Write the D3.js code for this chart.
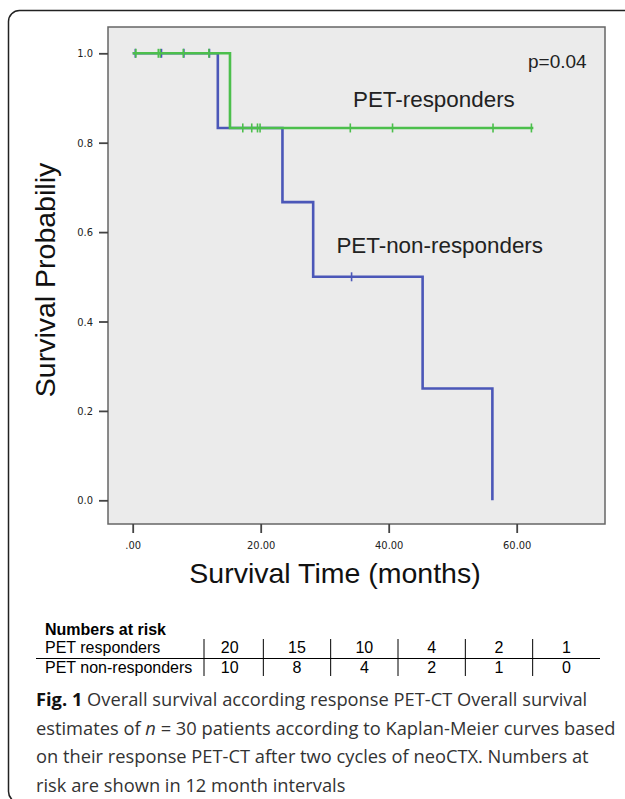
<!DOCTYPE html>
<html>
<head>
<meta charset="utf-8">
<script src="https://cdn.jsdelivr.net/npm/d3@7"></script>
<style>
  html, body { margin: 0; padding: 0; background: #fff; }
  svg { display: block; }
</style>
</head>
<body>
<svg id="fig" width="625" height="799"></svg>
<script>
// Kaplan-Meier steps (months, survival)
var nonTimes = [0, 13.3, 23.4, 28.2, 45.3, 56.2];
var nonSurv  = [1.0, 0.833, 0.667, 0.5, 0.25, 0.0];
var nonCensor = [0.4, 4.5, 8.0, 12.0, 34.2];

var respTimes = [0, 15.2, 62.6];
var respSurv  = [1.0, 0.833, 0.833];
var respCensor = [0.5, 4.0, 4.3, 7.9, 11.9, 17.2, 18.6, 19.5, 19.9, 34.0, 40.6, 56.3, 62.3];

var xTicks = [0, 20, 40, 60];
var yTicks = [0, 0.2, 0.4, 0.6, 0.8, 1.0];

var riskRows = ["PET responders", "PET non-responders"];
var riskResp = [20, 15, 10, 4, 2, 1];
var riskNon  = [10, 8, 4, 2, 1, 0];

var captionLines = [
  [{t: "Fig. 1", b: true}, {t: " Overall survival according response PET-CT Overall survival"}],
  [{t: "estimates of "}, {t: "n", i: true}, {t: " = 30 patients according to Kaplan-Meier curves based"}],
  [{t: "on their response PET-CT after two cycles of neoCTX. Numbers at"}],
  [{t: "risk are shown in 12 month intervals"}]
];

var svg = d3.select("#fig");
var sans = "'Liberation Sans', Arial, sans-serif";

// outer frame
svg.append("rect")
    .attr("x", 8.5).attr("y", 10.5)
    .attr("width", 700).attr("height", 792)
    .attr("rx", 11)
    .attr("fill", "none")
    .attr("stroke", "#222")
    .attr("stroke-width", 1.5);

// plot box
var box = {left: 108, top: 27, right: 605, bottom: 524};
svg.append("rect")
    .attr("x", box.left).attr("y", box.top)
    .attr("width", box.right - box.left).attr("height", box.bottom - box.top)
    .attr("fill", "#ebebeb")
    .attr("stroke", "#666")
    .attr("stroke-width", 1.5);

var x = d3.scaleLinear().domain([0, 60]).range([132.7, 516.7]);
var y = d3.scaleLinear().domain([0, 1]).range([500.3, 53.3]);

// axes
var xAxis = d3.axisBottom(x)
    .tickValues(xTicks)
    .tickSize(9)
    .tickPadding(8)
    .tickFormat(function (d) { return d === 0 ? ".00" : d.toFixed(2); });
var gx = svg.append("g")
    .attr("transform", "translate(0," + box.bottom + ")")
    .call(xAxis);

var yAxis = d3.axisLeft(y)
    .tickValues(yTicks)
    .tickSize(9)
    .tickPadding(6)
    .tickFormat(d3.format(".1f"));
var gy = svg.append("g")
    .attr("transform", "translate(" + box.left + ",0)")
    .call(yAxis);

[gx, gy].forEach(function (g) {
    g.select(".domain").remove();
    g.selectAll(".tick line").attr("stroke", "#444").attr("stroke-width", 1.8);
    g.selectAll(".tick text")
        .attr("fill", "#222")
        .style("font-family", "'DejaVu Sans Condensed', 'Liberation Sans Narrow', sans-serif")
        .style("font-size", "11px");
});

// axis titles
svg.append("text")
    .attr("x", 335).attr("y", 583)
    .attr("text-anchor", "middle")
    .style("font-family", sans)
    .style("font-size", "28.5px")
    .attr("fill", "#111")
    .text("Survival Time (months)");

svg.append("text")
    .attr("transform", "translate(55,280) rotate(-90)")
    .attr("text-anchor", "middle")
    .style("font-family", sans)
    .style("font-size", "28.5px")
    .attr("fill", "#111")
    .text("Survival Probabiliy");

// curves
var line = d3.line()
    .x(function (d) { return x(d[0]); })
    .y(function (d) { return y(d[1]); })
    .curve(d3.curveStepAfter);

function survAt(times, surv, t) {
    var i = d3.bisectRight(times, t) - 1;
    return surv[Math.max(0, i)];
}

function drawCurve(times, surv, censor, color) {
    svg.append("path")
        .datum(d3.zip(times, surv))
        .attr("d", line)
        .attr("fill", "none")
        .attr("stroke", color)
        .attr("stroke-width", 2.6);
    svg.append("g").selectAll("line")
        .data(censor)
        .join("line")
        .attr("x1", function (d) { return x(d); })
        .attr("x2", function (d) { return x(d); })
        .attr("y1", function (d) { return y(survAt(times, surv, d)) - 4.5; })
        .attr("y2", function (d) { return y(survAt(times, surv, d)) + 4.5; })
        .attr("stroke", color)
        .attr("stroke-width", 1.6);
}

drawCurve(nonTimes, nonSurv, nonCensor, "#4b57b8");
drawCurve(respTimes, respSurv, respCensor, "#4cbf4c");

// labels inside plot
svg.append("text")
    .attr("x", 528).attr("y", 68)
    .style("font-family", sans).style("font-size", "19px")
    .attr("fill", "#222")
    .text("p=0.04");
svg.append("text")
    .attr("x", 353).attr("y", 107)
    .style("font-family", sans).style("font-size", "22.4px")
    .attr("fill", "#222")
    .text("PET-responders");
svg.append("text")
    .attr("x", 543).attr("y", 253)
    .attr("text-anchor", "end")
    .style("font-family", sans).style("font-size", "22.4px")
    .attr("fill", "#222")
    .text("PET-non-responders");

// numbers at risk table
var col = d3.scaleBand().domain(d3.range(riskResp.length)).range([196, 600]);
var tbl = svg.append("g").style("font-family", sans).style("font-size", "16px").attr("fill", "#000");

tbl.append("text").attr("x", 45).attr("y", 635)
    .style("font-weight", "bold").text("Numbers at risk");
tbl.selectAll("text.row")
    .data(riskRows)
    .join("text")
    .attr("class", "row")
    .attr("x", 45)
    .attr("y", function (d, i) { return 653 + i * 20; })
    .text(function (d) { return d; });

[riskResp, riskNon].forEach(function (vals, r) {
    tbl.append("g").selectAll("text")
        .data(vals)
        .join("text")
        .attr("x", function (d, i) { return col(i) + col.bandwidth() / 2; })
        .attr("y", 653 + r * 20)
        .attr("text-anchor", "middle")
        .text(function (d) { return d; });
});

tbl.append("line")
    .attr("x1", 36).attr("x2", 600)
    .attr("y1", 658.5).attr("y2", 658.5)
    .attr("stroke", "#000").attr("stroke-width", 1);

tbl.append("g").selectAll("line")
    .data(d3.range(riskResp.length))
    .join("line")
    .attr("x1", function (i) { return i === 0 ? 204 : col(i); })
    .attr("x2", function (i) { return i === 0 ? 204 : col(i); })
    .attr("y1", 639).attr("y2", 676)
    .attr("stroke", "#000").attr("stroke-width", 1);

// caption
var cap = svg.append("g")
    .style("font-family", "'Open Sans', 'Noto Sans', sans-serif")
    .style("font-size", "18.3px")
    .attr("fill", "#333");

captionLines.forEach(function (parts, i) {
    var t = cap.append("text").attr("x", 36).attr("y", 706 + i * 28.5);
    parts.forEach(function (p) {
        t.append("tspan")
            .style("font-weight", p.b ? "bold" : null)
            .style("font-style", p.i ? "italic" : null)
            .attr("fill", p.b ? "#111" : null)
            .text(p.t);
    });
});
</script>
</body>
</html>
